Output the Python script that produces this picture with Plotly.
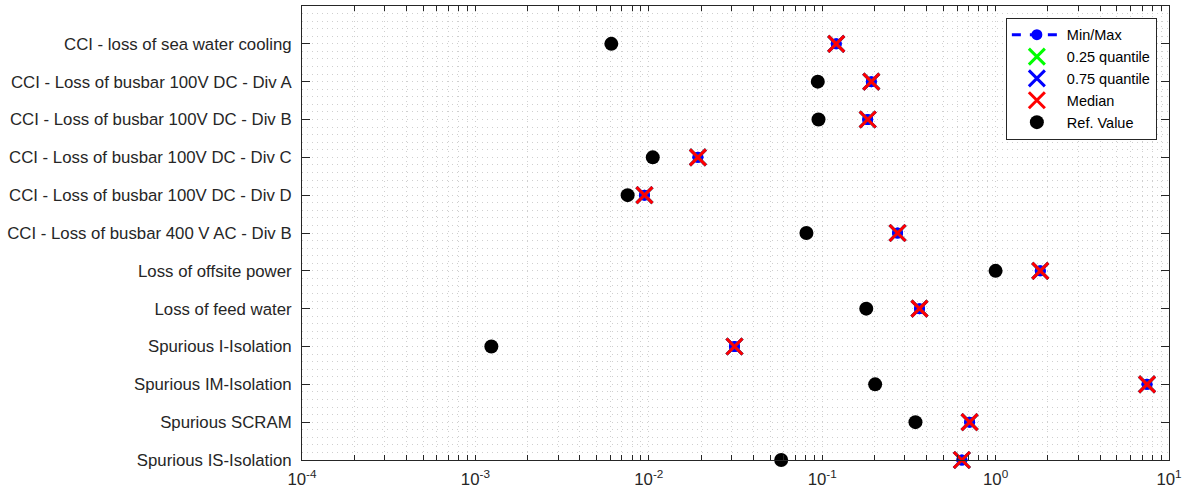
import plotly.graph_objects as go

# Initiating events, listed top to bottom
events = [
    "CCI - loss of sea water cooling",
    "CCI - Loss of busbar 100V DC - Div A",
    "CCI - Loss of busbar 100V DC - Div B",
    "CCI - Loss of busbar 100V DC - Div C",
    "CCI - Loss of busbar 100V DC - Div D",
    "CCI - Loss of busbar 400 V AC - Div B",
    "Loss of offsite power",
    "Loss of feed water",
    "Spurious I-Isolation",
    "Spurious IM-Isolation",
    "Spurious SCRAM",
    "Spurious IS-Isolation",
]

# Frequency statistics per event
min_vals = [0.1205, 0.192, 0.183, 0.0192, 0.00944, 0.272, 1.81, 0.364, 0.0312, 7.47, 0.708, 0.639]
max_vals = [0.1205, 0.192, 0.183, 0.0192, 0.00944, 0.272, 1.81, 0.364, 0.0312, 7.47, 0.708, 0.639]
q25_vals = [0.1205, 0.192, 0.183, 0.0192, 0.00944, 0.272, 1.81, 0.364, 0.0312, 7.47, 0.708, 0.639]
q75_vals = [0.1205, 0.192, 0.183, 0.0192, 0.00944, 0.272, 1.81, 0.364, 0.0312, 7.47, 0.708, 0.639]
median_vals = [0.1205, 0.192, 0.183, 0.0192, 0.00944, 0.272, 1.81, 0.364, 0.0312, 7.47, 0.708, 0.639]
ref_vals = [0.00608, 0.0943, 0.0952, 0.01054, 0.00755, 0.0811, 1.0, 0.1795, 0.001236, 0.202, 0.345, 0.058]

# Decade ticks of the frequency axis
x_tick_vals = [1e-4, 1e-3, 1e-2, 1e-1, 1e0, 1e1]
x_tick_text = ["10<sup>-4</sup>", "10<sup>-3</sup>", "10<sup>-2</sup>",
               "10<sup>-1</sup>", "10<sup>0</sup>", "10<sup>1</sup>"]

positions = list(range(1, len(events) + 1))

FONT = "Liberation Sans, Arial, Helvetica, sans-serif"
AXIS_COLOR = "#262626"
GRID_COLOR = "#cfcfcf"
GRID_DASH = "1px,4px"

fig = go.Figure()

# Min/Max range: dashed segment between min and max with end markers
seg_x, seg_y = [], []
for p, lo, hi in zip(positions, min_vals, max_vals):
    seg_x += [lo, hi, None]
    seg_y += [p, p, None]
fig.add_trace(go.Scatter(
    x=seg_x, y=seg_y, mode="lines+markers", name="Min/Max",
    line=dict(color="#0000ff", width=3, dash="dash"),
    marker=dict(symbol="circle", size=11, color="#0000ff"),
    cliponaxis=False,
))

def cross_trace(vals, color, name):
    return go.Scatter(
        x=vals, y=positions, mode="markers", name=name,
        marker=dict(symbol="x-thin", size=16, color=color,
                    line=dict(color=color, width=3)),
        cliponaxis=False,
    )

fig.add_trace(cross_trace(q25_vals, "#00ff00", "0.25 quantile"))
fig.add_trace(cross_trace(q75_vals, "#0000ff", "0.75 quantile"))
fig.add_trace(cross_trace(median_vals, "#ff0000", "Median"))

fig.add_trace(go.Scatter(
    x=ref_vals, y=positions, mode="markers", name="Ref. Value",
    marker=dict(symbol="circle", size=14, color="#000000"),
    cliponaxis=False,
))

fig.update_layout(
    width=1187, height=490,
    margin=dict(l=302, r=18, t=6, b=30),
    paper_bgcolor="white", plot_bgcolor="white",
    font=dict(family=FONT, size=16.8, color=AXIS_COLOR),
    legend=dict(
        x=0.986, y=0.974, xanchor="right", yanchor="top",
        bgcolor="white", bordercolor=AXIS_COLOR, borderwidth=1,
        font=dict(family=FONT, size=14.5, color="#000000"),
        tracegroupgap=0, itemwidth=50,
    ),
)

fig.update_xaxes(
    type="log", range=[-4, 1], automargin=False,
    tickmode="array", tickvals=x_tick_vals, ticktext=x_tick_text,
    showline=True, linecolor=AXIS_COLOR, linewidth=1, mirror="allticks",
    ticks="inside", ticklen=5, tickcolor=AXIS_COLOR, ticklabelstandoff=4,
    showgrid=True, gridcolor=GRID_COLOR, griddash=GRID_DASH, gridwidth=1,
    zeroline=False,
    tickfont=dict(family=FONT, size=16.8, color=AXIS_COLOR),
    minor=dict(dtick="D1", ticks="inside", ticklen=5, tickcolor=AXIS_COLOR,
               showgrid=True, gridcolor=GRID_COLOR, griddash=GRID_DASH, gridwidth=1),
)

fig.update_yaxes(
    range=[12, 0], tickmode="array", tickvals=positions, ticktext=events,
    automargin=False,
    showline=True, linecolor=AXIS_COLOR, linewidth=1, mirror="ticks",
    ticks="inside", ticklen=8, tickcolor=AXIS_COLOR, ticklabelstandoff=6,
    showgrid=True, gridcolor=GRID_COLOR, griddash=GRID_DASH, gridwidth=1,
    zeroline=False,
    tickfont=dict(family=FONT, size=16.8, color=AXIS_COLOR),
    minor=dict(dtick=0.2, tick0=0, showgrid=True, gridcolor=GRID_COLOR,
               griddash=GRID_DASH, gridwidth=1),
)

fig.write_html("out.html")
